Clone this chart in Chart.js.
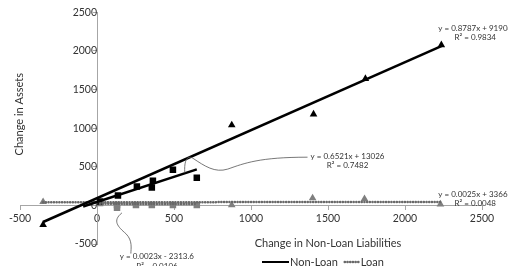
<!DOCTYPE html>
<html>
<head>
<meta charset="utf-8">
<script src="https://cdn.jsdelivr.net/npm/chart.js@4.4.0/dist/chart.umd.min.js"></script>
<style>
  html, body { margin: 0; padding: 0; background: #fff; }
  #wrap { width: 508px; height: 266px; }
</style>
</head>
<body>
<div id="wrap"><canvas id="chart"></canvas></div>
<script>
// values (change in non-loan liabilities vs change in assets)
var nonLoanSqX = [20, 136, 259, 356, 363, 493, 648];
var nonLoanSqY = [50, 128, 244, 231, 320, 462, 359];
var nonLoanTriX = [-350, 875, 1406, 1743, 2236];
var nonLoanTriY = [-250, 1040, 1180, 1640, 2077];
var loanSqX = [20, 130, 130, 253, 356, 493, 648];
var loanSqY = [30, 5, -30, 5, 5, 5, 5];
var loanTriX = [-350, 875, 1400, 1737, 2230];
var loanTriY = [45, 5, 95, 85, 15];

// trendline ends as drawn in the picture
var trendSqX = [-90, 648], trendSqY = [-15, 467];
var trendTriX = [-350, 2236], trendTriY = [-215, 2062];
var trendLoanTriX = [-350, 2230], trendLoanTriY = [40, 45];
var trendLoanSqX = [20, 648], trendLoanSqY = [20, 18];

var tickValues = [-500, 0, 500, 1000, 1500, 2000, 2500];

var equations = [
  { lines: ["y = 0.8787x + 91904", "R\u00b2 = 0.9834"], x: 2456, y: 2297 },
  { lines: ["y = 0.6521x + 13026", "R\u00b2 = 0.7482"], x: 1627, y: 637 },
  { lines: ["y = 0.0025x + 33665", "R\u00b2 = 0.0048"], x: 2456, y: 148 },
  { lines: ["y = 0.0023x - 2313.6", "R\u00b2 = 0.0106"], x: 389, y: -663 }
];

// leader curves from trendlines to their labels (data units)
var leaders = [
  [[570, 418], [564, 598], [590, 650], [622, 611], [700, 508], [765, 418], [849, 470], [959, 547], [1056, 624], [1367, 624]],
  [[162, -97], [97, -199], [136, -277], [188, -367], [233, -457], [220, -560], [220, -624]]
];

function pts(xs, ys) {
  return xs.map(function(x, i) { return { x: x, y: ys[i] }; });
}

var BLACK = "#000000";
var GREY = "#7f7f7f";
var DOTGREY = "#686868";
var AXIS = "#a6a6a6";
var TEXT = "#333333";
var FONT = "Lato";
var DOTS = [0.1, 2.6];

var notesPlugin = {
  id: "notes",
  afterDatasetsDraw: function(chart) {
    var ctx = chart.ctx;
    var xs = chart.scales.x, ys = chart.scales.y;
    function px(p) { return [xs.getPixelForValue(p[0]), ys.getPixelForValue(p[1])]; }
    ctx.save();

    // leader curves
    ctx.strokeStyle = "#555";
    ctx.lineWidth = 0.8;
    leaders.forEach(function(path) {
      var p0 = px(path[0]);
      ctx.beginPath();
      ctx.moveTo(p0[0], p0[1]);
      for (var i = 1; i + 2 < path.length; i += 3) {
        var a = px(path[i]), b = px(path[i + 1]), c = px(path[i + 2]);
        ctx.bezierCurveTo(a[0], a[1], b[0], b[1], c[0], c[1]);
      }
      ctx.stroke();
    });

    // regression equations
    ctx.fillStyle = TEXT;
    ctx.font = "8px " + FONT;
    ctx.textAlign = "center";
    ctx.textBaseline = "middle";
    equations.forEach(function(eq) {
      var p = px([eq.x, eq.y]);
      eq.lines.forEach(function(t, i) { ctx.fillText(t, p[0], p[1] + i * 9.5); });
    });

    // axis titles
    ctx.font = "11px " + FONT;
    ctx.fillText("Change in Non-Loan Liabilities", xs.getPixelForValue(1500), chart.chartArea.bottom - 1);
    ctx.save();
    ctx.translate(19, ys.getPixelForValue(1180));
    ctx.rotate(-Math.PI / 2);
    ctx.fillText("Change in Assets", 0, 0);
    ctx.restore();

    // legend
    var ly = 262, lx = 262;
    ctx.textAlign = "left";
    ctx.strokeStyle = BLACK;
    ctx.lineWidth = 2;
    ctx.beginPath(); ctx.moveTo(lx, ly); ctx.lineTo(lx + 27, ly); ctx.stroke();
    lx += 28;
    ctx.fillText("Non-Loan", lx, ly);
    lx += ctx.measureText("Non-Loan").width + 6;
    ctx.strokeStyle = DOTGREY;
    ctx.lineWidth = 2.6;
    ctx.lineCap = "round";
    ctx.setLineDash(DOTS);
    ctx.beginPath(); ctx.moveTo(lx + 1, ly); ctx.lineTo(lx + 15, ly); ctx.stroke();
    ctx.setLineDash([]);
    ctx.fillText("Loan", lx + 17, ly);
    ctx.restore();
  }
};

function trend(label, xs, ys, color, dash, width) {
  return {
    label: label,
    data: pts(xs, ys),
    showLine: true,
    borderColor: color,
    borderWidth: width,
    borderDash: dash,
    borderCapStyle: dash.length ? "round" : "butt",
    pointRadius: 0,
    fill: false,
    order: 1
  };
}

function markers(label, xs, ys, color, style, r) {
  return {
    label: label,
    data: pts(xs, ys),
    pointStyle: style,
    pointRadius: r,
    backgroundColor: color,
    borderColor: color,
    borderWidth: 0,
    order: 2
  };
}

function plainTick(v) { return String(v); }

new Chart(document.getElementById("chart"), {
  type: "scatter",
  data: {
    datasets: [
      trend("Non-Loan", trendTriX, trendTriY, BLACK, [], 2.5),
      trend("Non-Loan", trendSqX, trendSqY, BLACK, [], 2.5),
      trend("Loan", trendLoanTriX, trendLoanTriY, DOTGREY, DOTS, 2.5),
      trend("Loan", trendLoanSqX, trendLoanSqY, DOTGREY, DOTS, 2.5),
      markers("Non-Loan squares", nonLoanSqX, nonLoanSqY, BLACK, "rect", 4.6),
      markers("Non-Loan triangles", nonLoanTriX, nonLoanTriY, BLACK, "triangle", 4.4),
      markers("Loan squares", loanSqX, loanSqY, GREY, "rect", 4.6),
      markers("Loan triangles", loanTriX, loanTriY, GREY, "triangle", 4.4)
    ]
  },
  options: {
    responsive: true,
    maintainAspectRatio: false,
    animation: false,
    layout: { padding: { left: 20, right: 26, top: 10, bottom: 22 } },
    plugins: {
      legend: { display: false },
      tooltip: { enabled: false }
    },
    scales: {
      x: {
        type: "linear",
        position: { y: 0 },
        min: -500,
        max: 2500,
        afterFit: function(s) { s.height = 0; },
        afterBuildTicks: function(s) { s.ticks = tickValues.map(function(v) { return { value: v }; }); },
        ticks: { color: TEXT, font: { family: FONT, size: 10.5 }, padding: 3, maxRotation: 0, autoSkip: false, callback: plainTick },
        grid: { drawOnChartArea: false, tickLength: 4, tickColor: AXIS },
        border: { color: AXIS }
      },
      y: {
        type: "linear",
        position: { x: 0 },
        min: -500,
        max: 2500,
        afterFit: function(s) { s.width = 0; },
        afterBuildTicks: function(s) { s.ticks = tickValues.map(function(v) { return { value: v }; }); },
        ticks: { color: TEXT, font: { family: FONT, size: 10.5 }, padding: 6, autoSkip: false, callback: plainTick },
        grid: { drawOnChartArea: false, tickLength: 4, tickColor: AXIS },
        border: { color: AXIS }
      }
    }
  },
  plugins: [notesPlugin]
});
</script>
</body>
</html>
